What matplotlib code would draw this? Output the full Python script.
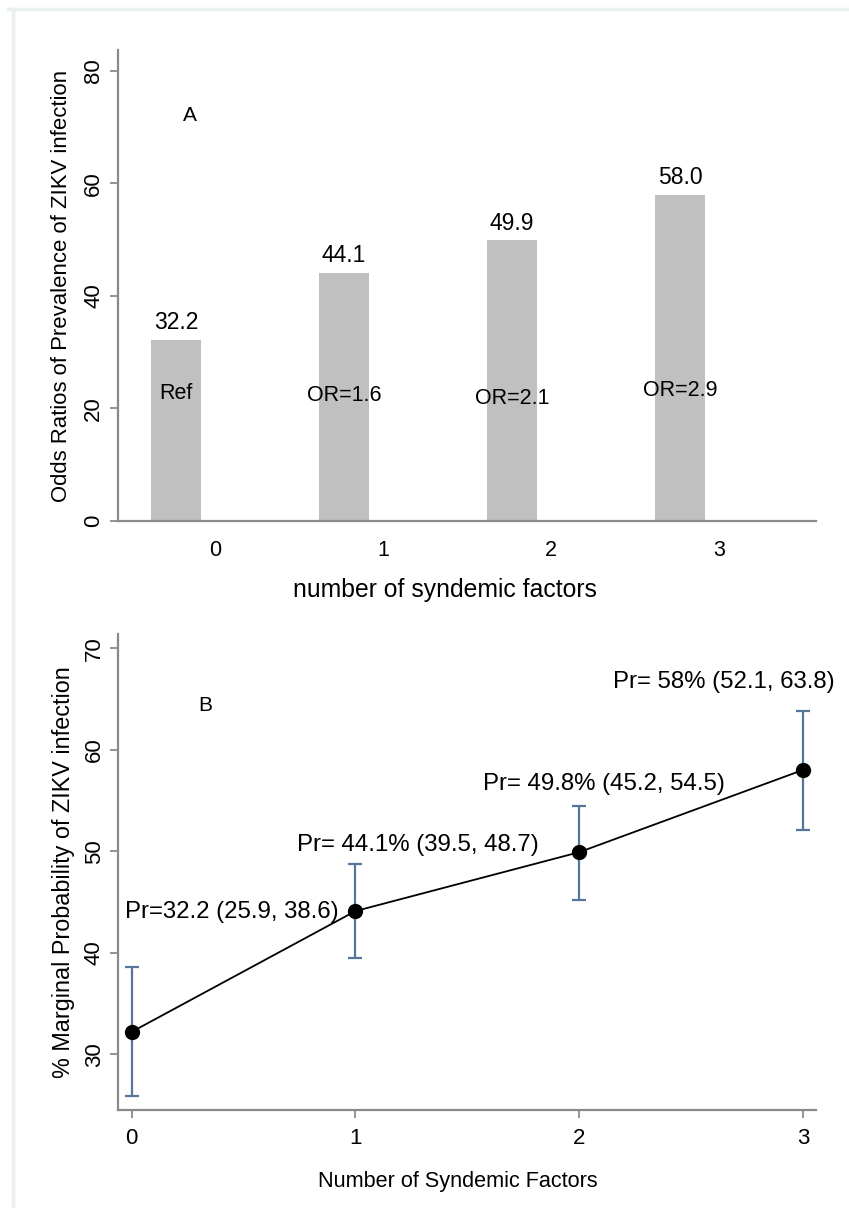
import matplotlib
matplotlib.use('Agg')
import matplotlib.pyplot as plt
from matplotlib.lines import Line2D

plt.rcParams['font.family'] = ['Liberation Sans', 'DejaVu Sans']

# panel A
factors = [0, 1, 2, 3]
odds_pct = [32.2, 44.1, 49.9, 58.0]
bar_labels = ['32.2', '44.1', '49.9', '58.0']
or_labels = ['Ref', 'OR=1.6', 'OR=2.1', 'OR=2.9']
or_label_y = [22.6, 22.3, 21.7, 23.2]

# panel B
prob = [32.2, 44.1, 49.9, 58.0]
ci_low = [25.9, 39.5, 45.2, 52.1]
ci_high = [38.6, 48.7, 54.5, 63.8]
pr_labels = ['Pr=32.2 (25.9, 38.6)', 'Pr= 44.1% (39.5, 48.7)',
             'Pr= 49.8% (45.2, 54.5)', 'Pr= 58% (52.1, 63.8)']
pr_label_x = [-0.03, 0.74, 1.57, 2.15]
pr_label_y = [44.0, 50.6, 56.6, 66.7]

axis_col = '#8a8a8a'
bar_col = '#c0c0c0'
err_col = '#55769a'

fig = plt.figure(figsize=(8.49, 12.08), dpi=100)

# light frame around the figure
fig.add_artist(Line2D([0.010, 1.0], [0.9925, 0.9925], color='#eaf0f0', lw=2.5, transform=fig.transFigure))
fig.add_artist(Line2D([0.015, 0.015], [0.0, 0.9925], color='#eaf0f0', lw=2.5, transform=fig.transFigure))

ax1 = fig.add_axes([0.139, 0.5687, 0.822, 0.3899])
shift = 0.232
bx = [f - shift for f in factors]
ax1.bar(bx, odds_pct, width=0.298, color=bar_col, zorder=2)
for x, v, t in zip(bx, odds_pct, bar_labels):
    ax1.text(x, v + 1.0, t, ha='center', va='bottom', fontsize=16.5)
for x, y, t in zip(bx, or_label_y, or_labels):
    ax1.text(x, y, t, ha='center', va='center', fontsize=15.5)
ax1.text(-0.15, 72, 'A', ha='center', va='center', fontsize=15)

ax1.set_xlim(-0.577, 3.577)
ax1.set_ylim(0, 83.7)
ax1.set_xticks(factors)
ax1.set_xticklabels([str(f) for f in factors])
ax1.set_yticks([0, 20, 40, 60, 80])
ax1.tick_params(axis='x', length=0, pad=14, labelsize=15.5)
ax1.tick_params(axis='y', length=6, width=1.3, color=axis_col, pad=4, labelsize=16)
for lab in ax1.get_yticklabels():
    lab.set_rotation(90)
    lab.set_va('center')
ax1.set_xlabel('number of syndemic factors', fontsize=17.8)
ax1.xaxis.set_label_coords(0.469, -0.122)
ax1.set_ylabel('Odds Ratios of Prevalence of ZIKV infection', fontsize=15.9, labelpad=8)
for s in ['top', 'right']:
    ax1.spines[s].set_visible(False)
for s in ['left', 'bottom']:
    ax1.spines[s].set_color(axis_col)
    ax1.spines[s].set_linewidth(1.6)

ax2 = fig.add_axes([0.139, 0.0811, 0.822, 0.3941])
yerr = [[p - lo for p, lo in zip(prob, ci_low)], [hi - p for p, hi in zip(prob, ci_high)]]
ax2.errorbar(factors, prob, yerr=yerr, fmt='none', ecolor=err_col, elinewidth=1.6,
             capsize=5, capthick=1.6, zorder=2)
ax2.plot(factors, prob, color='black', lw=1.3, marker='o', markersize=10, zorder=3)
for x, y, t in zip(pr_label_x, pr_label_y, pr_labels):
    ax2.text(x, y, t, ha='left', va='center', fontsize=17.3)
ax2.text(0.33, 64.4, 'B', ha='center', va='center', fontsize=15)

ax2.set_xlim(-0.061, 3.058)
ax2.set_ylim(24.5, 71.4)
ax2.set_xticks(factors)
ax2.set_yticks([30, 40, 50, 60, 70])
ax2.tick_params(axis='both', length=6, width=1.3, color=axis_col, labelsize=16)
ax2.tick_params(axis='x', pad=7)
for lab in ax2.get_yticklabels():
    lab.set_rotation(90)
    lab.set_va('center')
ax2.set_xlabel('Number of Syndemic Factors', fontsize=15.6)
ax2.xaxis.set_label_coords(0.487, -0.128)
ax2.set_ylabel('% Marginal Probability of ZIKV infection', fontsize=16.8, labelpad=6)
for s in ['top', 'right']:
    ax2.spines[s].set_visible(False)
for s in ['left', 'bottom']:
    ax2.spines[s].set_color(axis_col)
    ax2.spines[s].set_linewidth(1.6)

fig.savefig('out.png', dpi=100)
